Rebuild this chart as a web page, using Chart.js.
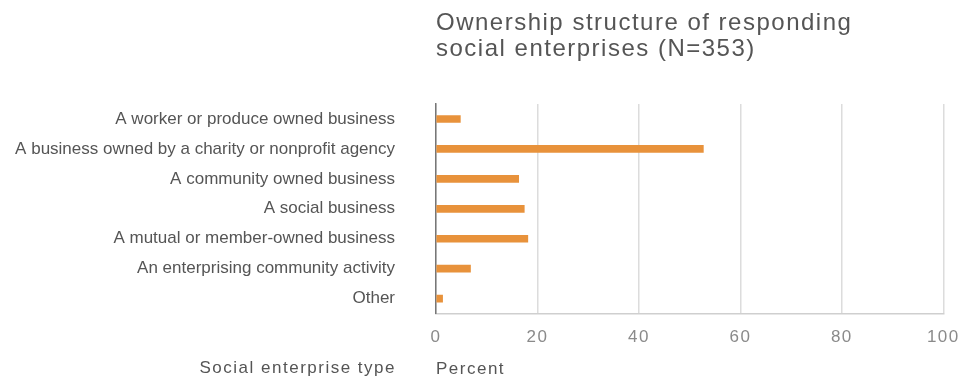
<!DOCTYPE html>
<html>
<head>
<meta charset="utf-8">
<script src="https://cdn.jsdelivr.net/npm/chart.js@4"></script>
<style>
  body { margin: 0; background: #fff; }
  canvas { display: block; }
</style>
</head>
<body>
<canvas id="myChart" width="971" height="378"></canvas>
<script>
const categories = [
  "A worker or produce owned business",
  "A business owned by a charity or nonprofit agency",
  "A community owned business",
  "A social business",
  "A mutual or member-owned business",
  "An enterprising community activity",
  "Other",
];
const percents = [4.8, 52.7, 16.3, 17.4, 18.1, 6.8, 1.3];
const titleLines = ["Ownership structure of responding", "social enterprises (N=353)"];
const xTicks = [0, 20, 40, 60, 80, 100];

const wideSpacing = "1.5px";

// title, x ticks and "Percent" are spaced out; the category labels (ticks.z = 1,
// drawn after the bars) are set tight
const textSpacing = {
  id: "textSpacing",
  beforeDraw(chart) {
    chart.ctx.letterSpacing = wideSpacing;
  },
  afterDatasetsDraw(chart) {
    chart.ctx.letterSpacing = "0px";
  },
  afterDraw(chart) {
    // caption for the category axis, under the labels next to "Percent"
    const ctx = chart.ctx;
    ctx.save();
    ctx.letterSpacing = wideSpacing;
    ctx.font = "17px 'Liberation Sans', Arial, sans-serif";
    ctx.fillStyle = "#555";
    ctx.textAlign = "right";
    ctx.textBaseline = "middle";
    ctx.fillText("Social enterprise type", chart.chartArea.left - 40, 368);
    ctx.restore();
    ctx.letterSpacing = "0px";
  },
};

const ctx = document.getElementById("myChart");
new Chart(ctx, {
  type: "bar",
  data: {
    labels: categories,
    datasets: [
      {
        data: percents,
        backgroundColor: "#e8923b",
        barThickness: 7,
      },
    ],
  },
  options: {
    indexAxis: "y",
    responsive: false,
    animation: false,
    layout: { padding: { left: 0, right: 22.5, top: 0, bottom: 0 } },
    scales: {
      x: {
        min: 0,
        max: 100,
        afterBuildTicks: (scale) => {
          scale.ticks = xTicks.map((v) => ({ value: v }));
        },
        grid: {
          color: "#dcdcdc",
          lineWidth: 1.5,
          drawTicks: false,
        },
        border: { color: "#cfcfcf", width: 1.5 },
        ticks: {
          padding: 13.5,
          color: "#8a8a8a",
          font: { family: "'Liberation Sans', Arial, sans-serif", size: 17 },
        },
        title: {
          display: true,
          text: "Percent",
          align: "start",
          color: "#555",
          padding: { top: 0, bottom: 0 },
          font: { family: "'Liberation Sans', Arial, sans-serif", size: 17, lineHeight: "17px" },
        },
      },
      y: {
        afterFit: (scale) => {
          scale.width = 436;
        },
        grid: { display: false, drawTicks: false },
        border: { color: "#777", width: 1.5 },
        ticks: {
          z: 1,
          padding: 41,
          color: "#555",
          font: { family: "'Liberation Sans', Arial, sans-serif", size: 17 },
        },
      },
    },
    plugins: {
      legend: { display: false },
      tooltip: { enabled: false },
      title: {
        display: true,
        text: titleLines,
        align: "start",
        fullSize: false,
        color: "#555",
        padding: { top: 10.5, bottom: 41.5 },
        font: { family: "'Liberation Sans', Arial, sans-serif", size: 24, weight: "normal", lineHeight: "26px" },
      },
    },
  },
  plugins: [textSpacing],
});
</script>
</body>
</html>
